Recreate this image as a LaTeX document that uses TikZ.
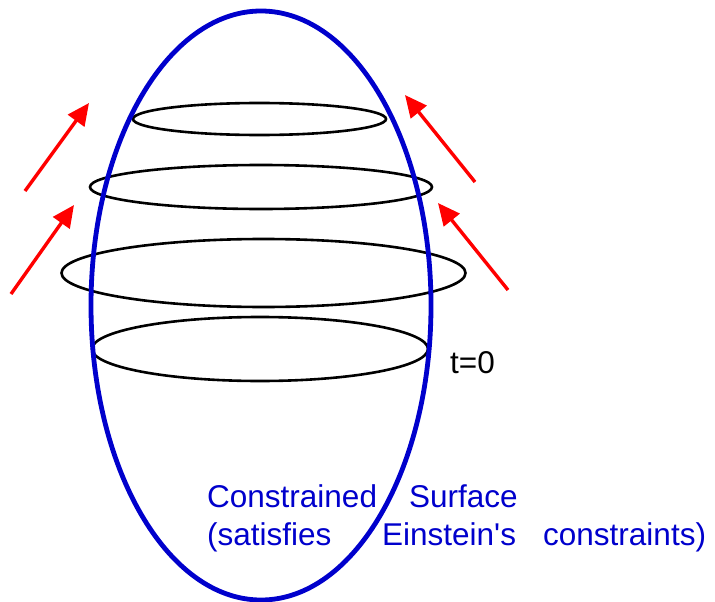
\documentclass[tikz,border=0pt]{standalone}
\usepackage{fontspec}
\setmainfont{Liberation Sans}
\usetikzlibrary{arrows.meta}
\definecolor{surfblue}{RGB}{0,0,204}
\begin{document}
\begin{tikzpicture}[x=1pt,y=-1pt,
  slice/.style={draw=black,line width=2.6pt},
  surf/.style={draw=surfblue,line width=4.8pt},
  flow/.style={draw=red,line width=3.4pt,-{Triangle[length=22pt,width=20pt]}},
  lbl/.style={anchor=base west,inner sep=0pt,font=\fontsize{31.5}{33}\selectfont},
  blbl/.style={lbl,text=surfblue}]
\useasboundingbox (0,0) rectangle (715,602);
% slices
\draw[slice] (259.5,119) ellipse [x radius=126.5,y radius=16];
\draw[slice] (261,187) ellipse [x radius=171,y radius=22];
\draw[slice] (263.5,273) ellipse [x radius=202,y radius=34];
\draw[slice] (260,349) ellipse [x radius=168,y radius=32];
% constrained surface
\draw[surf] (261,305.5) ellipse [x radius=170,y radius=294.5];
% arrows
\coordinate (a1s) at (25,191); \coordinate (a1e) at (89,103);
\coordinate (a2s) at (11,294); \coordinate (a2e) at (74,205);
\coordinate (a3s) at (475,182); \coordinate (a3e) at (405,95);
\coordinate (a4s) at (508,290); \coordinate (a4e) at (438,203);
\draw[flow] (a1s) -- (a1e);
\draw[flow] (a2s) -- (a2e);
\draw[flow] (a3s) -- (a3e);
\draw[flow] (a4s) -- (a4e);
% labels
\node[lbl] (t0) at (450,373) {t=0};
\node[blbl] (c1) at (207,507) {Constrained};
\node[blbl] (c2) at (409,507) {Surface};
\node[blbl] (c3) at (207,545) {(satisfies};
\node[blbl] (c4) at (382,545) {Einstein\textquotesingle s};
\node[blbl] (c5) at (543,545) {constraints)};
\end{tikzpicture}
\end{document}
